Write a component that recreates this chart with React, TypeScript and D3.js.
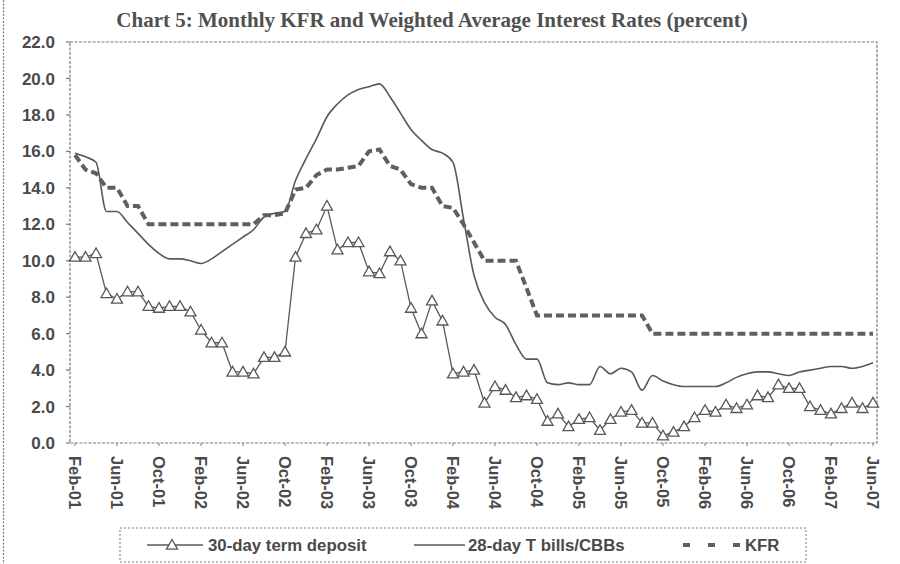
import React from "react";
import * as d3 from "d3";

const months = [
  "Feb-01","Mar-01","Apr-01","May-01","Jun-01","Jul-01","Aug-01","Sep-01","Oct-01","Nov-01","Dec-01",
  "Jan-02","Feb-02","Mar-02","Apr-02","May-02","Jun-02","Jul-02","Aug-02","Sep-02","Oct-02","Nov-02","Dec-02",
  "Jan-03","Feb-03","Mar-03","Apr-03","May-03","Jun-03","Jul-03","Aug-03","Sep-03","Oct-03","Nov-03","Dec-03",
  "Jan-04","Feb-04","Mar-04","Apr-04","May-04","Jun-04","Jul-04","Aug-04","Sep-04","Oct-04","Nov-04","Dec-04",
  "Jan-05","Feb-05","Mar-05","Apr-05","May-05","Jun-05","Jul-05","Aug-05","Sep-05","Oct-05","Nov-05","Dec-05",
  "Jan-06","Feb-06","Mar-06","Apr-06","May-06","Jun-06","Jul-06","Aug-06","Sep-06","Oct-06","Nov-06","Dec-06",
  "Jan-07","Feb-07","Mar-07","Apr-07","May-07","Jun-07"
];

const xTickLabels = [
  "Feb-01","Jun-01","Oct-01","Feb-02","Jun-02","Oct-02","Feb-03","Jun-03","Oct-03",
  "Feb-04","Jun-04","Oct-04","Feb-05","Jun-05","Oct-05","Feb-06","Jun-06","Oct-06","Feb-07","Jun-07"
];

const yTicks = [0, 2, 4, 6, 8, 10, 12, 14, 16, 18, 20, 22];

const termDeposit = [
  10.2,10.2,10.4,8.2,7.9,8.3,8.3,7.5,7.4,7.5,7.5,
  7.2,6.2,5.5,5.5,3.9,3.9,3.8,4.7,4.7,5.0,10.2,11.5,
  11.7,13.0,10.6,11.0,11.0,9.4,9.3,10.5,10.0,7.4,6.0,7.8,
  6.7,3.8,3.9,4.0,2.2,3.1,2.9,2.5,2.6,2.4,1.2,1.6,
  0.9,1.3,1.4,0.7,1.3,1.7,1.8,1.1,1.1,0.4,0.6,0.9,
  1.4,1.8,1.7,2.1,1.9,2.1,2.6,2.5,3.2,3.0,3.0,2.0,
  1.8,1.6,1.9,2.2,1.9,2.2
];

const tBills = [
  15.9,15.7,15.4,12.7,12.7,12.1,11.5,10.9,10.4,10.1,10.1,
  10.0,9.85,10.1,10.5,10.9,11.3,11.7,12.4,12.6,12.7,14.4,15.6,
  16.7,17.9,18.6,19.1,19.4,19.55,19.7,19.0,18.1,17.2,16.6,16.1,
  15.9,15.4,12.3,9.2,7.7,6.9,6.5,5.4,4.6,4.6,3.3,3.2,
  3.3,3.2,3.2,4.2,3.8,4.1,3.9,2.9,3.7,3.4,3.2,3.1,
  3.1,3.1,3.1,3.3,3.6,3.8,3.9,3.9,3.8,3.7,3.9,4.0,
  4.1,4.2,4.2,4.1,4.2,4.4
];

const kfr = [
  15.8,15.0,14.8,14.0,14.0,13.0,13.0,12.0,12.0,12.0,12.0,
  12.0,12.0,12.0,12.0,12.0,12.0,12.0,12.5,12.5,12.6,13.9,14.0,
  14.7,15.0,15.0,15.1,15.2,16.0,16.1,15.2,15.0,14.2,14.0,14.0,
  13.0,12.9,12.0,11.0,10.0,10.0,10.0,10.0,8.5,7.0,7.0,7.0,
  7.0,7.0,7.0,7.0,7.0,7.0,7.0,7.0,6.0,6.0,6.0,6.0,
  6.0,6.0,6.0,6.0,6.0,6.0,6.0,6.0,6.0,6.0,6.0,6.0,
  6.0,6.0,6.0,6.0,6.0,6.0
];

const seriesNames = ["30-day term deposit", "28-day T bills/CBBs", "KFR"];
const title = "Chart 5: Monthly KFR and Weighted Average Interest Rates (percent)";

const W = 900;
const H = 564;
const plot = { left: 70, right: 877, top: 42, bottom: 443 };
const ink = "#4a4a4a";
const lineCol = "#585858";
const dotted = "#7a7a7a";
const sans = "'Liberation Sans', Arial, sans-serif";

function triPath(cx: number, cy: number, s = 5.5) {
  return `M${cx},${cy - s}L${cx + s * 1.0},${cy + s * 0.75}L${cx - s * 1.0},${cy + s * 0.75}Z`;
}

export default function App() {
  const x = d3.scaleLinear().domain([0, months.length - 1]).range([75, 873]);
  const y = d3.scaleLinear().domain([0, 22]).range([plot.bottom, plot.top]);

  const straight = d3.line<number>().x((_, i) => x(i)).y((d) => y(d));
  const smooth = d3
    .line<number>()
    .x((_, i) => x(i))
    .y((d) => y(d))
    .curve(d3.curveMonotoneX);

  const legendY = 545;

  return (
    <svg
      width={W}
      height={H}
      style={{ position: "absolute", left: 0, top: 0, background: "#fff" }}
      fontFamily={sans}
    >
      <rect x={0} y={0} width={W} height={H} fill="#fff" />
      {/* outer left dotted border */}
      <line x1={3.5} y1={0} x2={3.5} y2={H} stroke={dotted} strokeWidth={1.2} strokeDasharray="2,1.5" />

      {/* title */}
      <text
        x={432}
        y={27}
        textAnchor="middle"
        fontFamily="'Liberation Serif', 'Times New Roman', serif"
        fontWeight="bold"
        fontSize={21}
        fill="#505050"
      >
        {title}
      </text>

      {/* plot area border */}
      <rect
        x={plot.left}
        y={plot.top}
        width={plot.right - plot.left}
        height={plot.bottom - plot.top}
        fill="none"
        stroke={dotted}
        strokeWidth={1.2}
        strokeDasharray="3,1.5"
      />

      {/* y axis ticks and labels */}
      {yTicks.map((t) => (
        <g key={t}>
          <line x1={plot.left - 4} x2={plot.left} y1={y(t)} y2={y(t)} stroke={dotted} strokeWidth={1.2} />
          <text
            x={55}
            y={y(t)}
            dy="0.36em"
            textAnchor="end"
            fontSize={17}
            fontWeight="bold"
            fill={ink}
          >
            {d3.format(".1f")(t)}
          </text>
        </g>
      ))}

      {/* x axis labels */}
      {xTickLabels.map((lab) => {
        const i = months.indexOf(lab);
        const xi = x(i);
        return (
          <g key={lab}>
            <line x1={xi} x2={xi} y1={plot.bottom} y2={plot.bottom + 3} stroke={dotted} strokeWidth={1} />
            <text
              transform={`translate(${xi},${456}) rotate(90)`}
              dy="0.36em"
              textAnchor="start"
              fontSize={16.5}
              fontWeight="bold"
              fill={ink}
            >
              {lab}
            </text>
          </g>
        );
      })}

      {/* T-bills smooth line */}
      <path d={smooth(tBills) || ""} fill="none" stroke={lineCol} strokeWidth={1.6} />

      {/* KFR dashed */}
      <path
        d={straight(kfr) || ""}
        fill="none"
        stroke="#5f5f5f"
        strokeWidth={4}
        strokeDasharray="8,4"
      />

      {/* term deposit line + triangles */}
      <path d={straight(termDeposit) || ""} fill="none" stroke={lineCol} strokeWidth={1.3} />
      {termDeposit.map((v, i) => (
        <path
          key={i}
          d={triPath(x(i), y(v))}
          fill="#fff"
          stroke={lineCol}
          strokeWidth={1.3}
        />
      ))}

      {/* legend */}
      <rect
        x={120}
        y={528}
        width={686}
        height={34}
        fill="#fff"
        stroke={dotted}
        strokeWidth={1}
        strokeDasharray="2,2"
      />
      <line x1={147} x2={203} y1={legendY} y2={legendY} stroke={lineCol} strokeWidth={1.3} />
      <path d={triPath(172, legendY)} fill="#fff" stroke={lineCol} strokeWidth={1.3} />
      <text x={208} y={legendY} dy="0.36em" fontSize={16.8} fontWeight="bold" fill={ink}>
        {seriesNames[0]}
      </text>

      <line x1={414} x2={465} y1={legendY} y2={legendY} stroke={lineCol} strokeWidth={1.6} />
      <text x={468} y={legendY} dy="0.36em" fontSize={16.8} fontWeight="bold" fill={ink}>
        {seriesNames[1]}
      </text>

      <line
        x1={683}
        x2={745}
        y1={legendY}
        y2={legendY}
        stroke="#5f5f5f"
        strokeWidth={4}
        strokeDasharray="7,18"
      />
      <text x={745} y={legendY} dy="0.36em" fontSize={16.8} fontWeight="bold" fill={ink}>
        {seriesNames[2]}
      </text>
    </svg>
  );
}
